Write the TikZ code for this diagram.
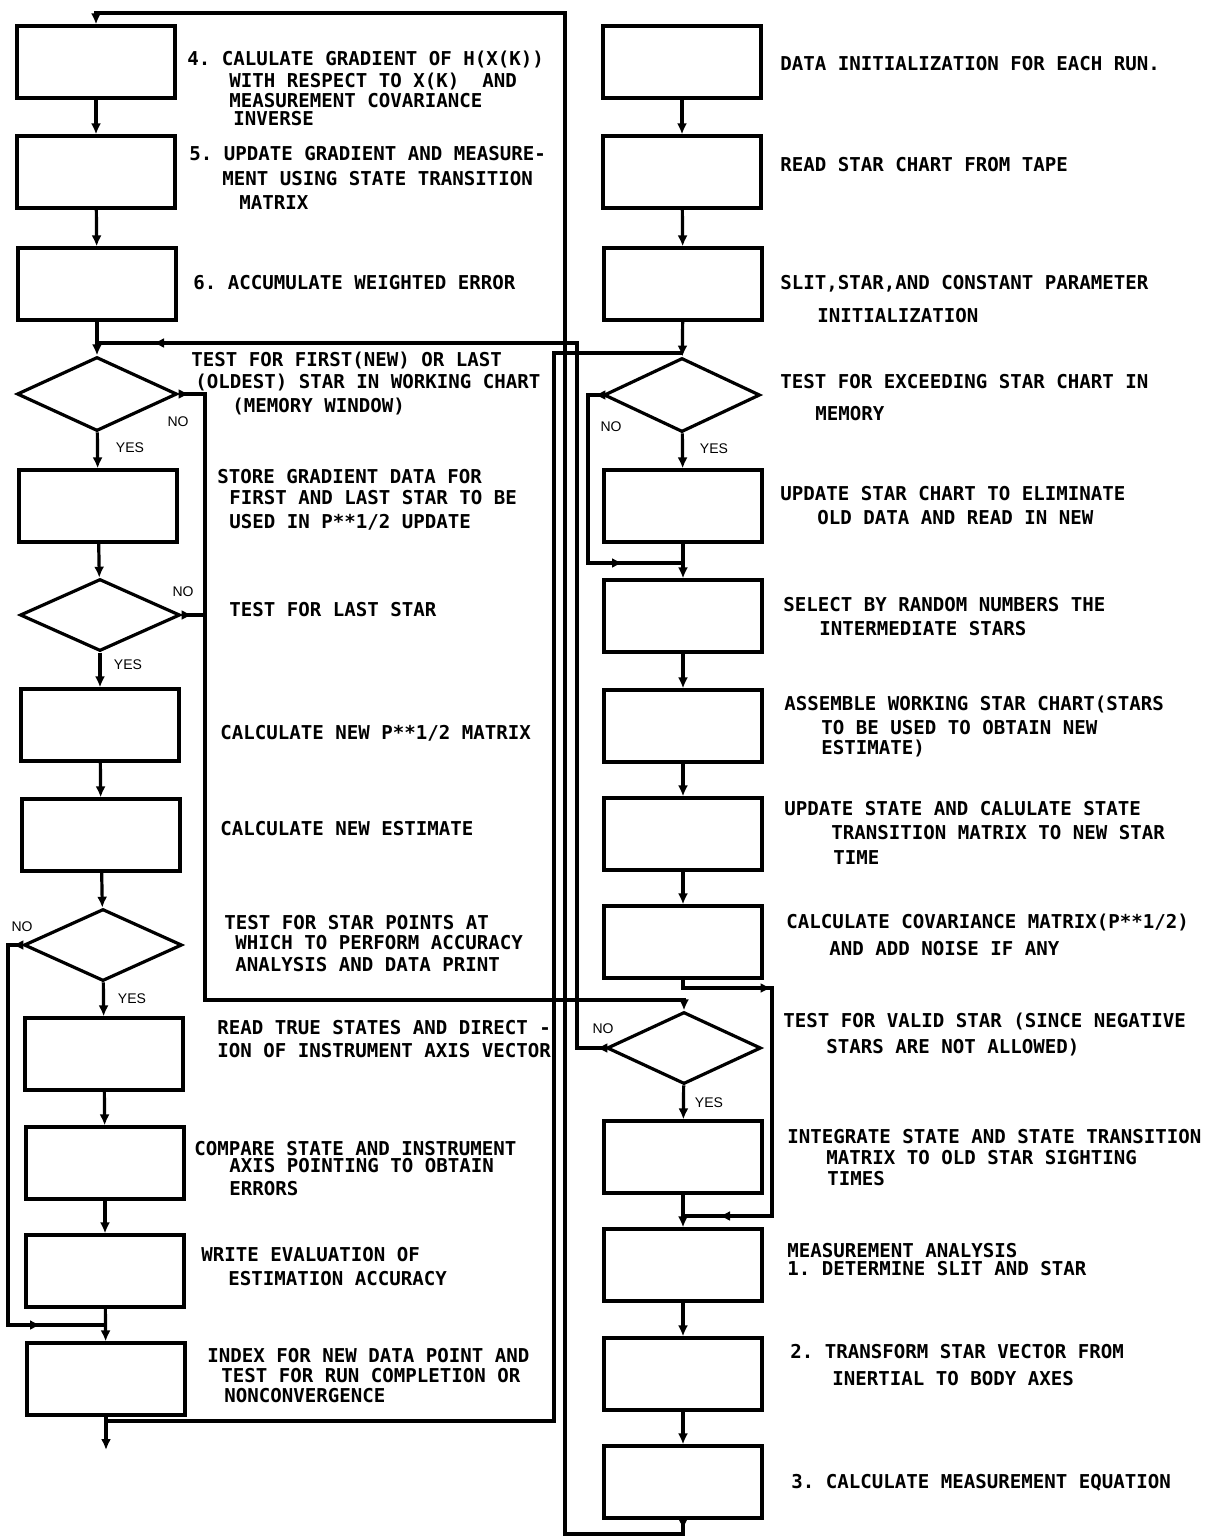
\documentclass[tikz,border=0pt]{standalone}
\usepackage{fontspec}
\setmonofont{DejaVu Sans Mono}
\newfontfamily\ynfont{Liberation Sans}
\usetikzlibrary{shapes.geometric,arrows.meta,decorations.markings}
\newcommand\lblfont{\fontsize{9.55pt}{11pt}\selectfont\ttfamily\bfseries}
\newcommand\ynsize{\ynfont\fontsize{7pt}{8pt}\selectfont}
\begin{document}
\begin{tikzpicture}[x=0.5pt,y=-0.5pt,
  box/.style={draw, line width=1.6pt, rectangle, minimum width=79pt, minimum height=36pt, inner sep=0pt},
  dia/.style={draw, line width=1.6pt, diamond, inner sep=0pt},
  con/.style={line width=1.6pt, line join=miter},
  arr/.style={con, -{Latex[length=5.5pt,width=5pt]}},
  marr/.style={postaction={decorate, decoration={markings, mark=at position #1 with {\arrow{Latex[length=5.5pt,width=5pt]}}}}},
  lbl/.style={anchor=base west, inner sep=0pt, font=\lblfont},
  yn/.style={inner sep=0pt, font=\ynsize}]
\fill[white] (0,0) rectangle (1210,1538);
\useasboundingbox (0,0) rectangle (1210,1538);

% ---------------- left column ----------------
\node[box] (L1) at (96,62) {};
\node[box] (L2) at (96,172) {};
\node[box] (L3) at (97,284) {};
\node[dia, minimum width=80pt, minimum height=37pt] (D1) at (97,394) {};
\node[box] (L4) at (98,506) {};
\node[dia, minimum width=80pt, minimum height=36pt] (D2) at (100,615) {};
\node[box] (L5) at (100,725) {};
\node[box] (L6) at (101,835) {};
\node[dia, minimum width=79pt, minimum height=36pt] (D3) at (103,945) {};
\node[box] (L7) at (104,1054) {};
\node[box] (L8) at (105,1163) {};
\node[box] (L9) at (105,1271) {};
\node[box] (L10) at (106,1379) {};

% ---------------- right column ----------------
\node[box] (R1) at (682,62) {};
\node[box] (R2) at (682,172) {};
\node[box] (R3) at (683,284) {};
\node[dia, minimum width=78pt, minimum height=37pt] (D4) at (682,395) {};
\node[box] (R4) at (683,506) {};
\node[box] (R5) at (683,616) {};
\node[box] (R6) at (683,726) {};
\node[box] (R7) at (683,834) {};
\node[box] (R8) at (683,942) {};
\node[dia, minimum width=77pt, minimum height=36pt] (D5) at (684,1048) {};
\node[box] (R9) at (683,1157) {};
\node[box] (R10) at (683,1265) {};
\node[box] (R11) at (683,1374) {};
\node[box] (R12) at (683,1482) {};

% ---------------- junctions and bends ----------------
\coordinate (jL) at (97,343);
\coordinate (jR) at (682,353);
\coordinate (jR2) at (683,563);
\coordinate (jL2) at (105,1325);
\coordinate (jR3) at (683,1216);
\coordinate (exitL) at (106,1450);
\coordinate (a1) at (106,1421);
\coordinate (a2) at (554,1421);
\coordinate (a3) at (554,353);
\coordinate (b0) at (683,1534);
\coordinate (b1) at (565,1534);
\coordinate (b2) at (565,13);
\coordinate (c1) at (577,1048);
\coordinate (c2) at (577,343);
\coordinate (d1) at (588,395);
\coordinate (d2) at (588,563);
\coordinate (e1) at (205,394);
\coordinate (e2) at (205,1000);
\coordinate (g1) at (8,945);
\coordinate (g2) at (8,1325);
\coordinate (h1) at (683,988);
\coordinate (h2) at (772,988);
\coordinate (h3) at (772,1216);

% ---------------- straight flow ----------------
\draw[arr] (L1) -- (L2);
\draw[arr] (L2) -- (L3);
\draw[arr] (L3) -- (D1);
\draw[arr] (D1) -- (L4);
\draw[arr] (L4) -- (D2);
\draw[arr] (D2) -- (L5);
\draw[arr] (L5) -- (L6);
\draw[arr] (L6) -- (D3);
\draw[arr] (D3) -- (L7);
\draw[arr] (L7) -- (L8);
\draw[arr] (L8) -- (L9);
\draw[arr] (L9) -- (L10);
\draw[arr] (L10.south) -- (exitL);

\draw[arr] (R1) -- (R2);
\draw[arr] (R2) -- (R3);
\draw[arr] (R3) -- (D4);
\draw[arr] (D4) -- (R4);
\draw[arr] (R4) -- (R5);
\draw[arr] (R5) -- (R6);
\draw[arr] (R6) -- (R7);
\draw[arr] (R7) -- (R8);
\draw[arr] (D5) -- (R9);
\draw[arr] (R9) -- (R10);
\draw[arr] (R10) -- (R11);
\draw[arr] (R11) -- (R12);

% ---------------- loops ----------------
% index loop back to star chart test
\draw[con] (a1) -- (a2) -- (a3) -- (jR);
% measurement equation back to gradient (top)
\draw[arr, marr=5pt] (R12.south) -- (b0) -- (b1) -- (b2) -- (L1.north |- b2) -- (L1.north);
% invalid star back to first/last test
\draw[con, marr=4.5pt, marr=-28pt] (D5.west) -- (c1) -- (c2) -- (jL);
% star chart in memory bypass
\draw[con, marr=4pt, marr=-30pt] (D4.west) -- (d1) -- (d2) -- (jR2);
% NO of first/last test to valid star test
\draw[arr, marr=5.5pt] (D1.east) -- (e1) -- (e2) -- (D5.north |- e2) -- (D5.north);
\draw[con, marr=5.5pt] (D2.east) -- (D2.east -| e1);
% star points NO bypass
\draw[con, marr=5pt, marr=-32pt] (D3.west) -- (g1) -- (g2) -- (jL2);
% covariance to measurement analysis
\draw[con, marr=48.5pt, marr=-18pt] (R8.south) -- (h1) -- (h2) -- (h3) -- (jR3);

% ---------------- YES / NO ----------------
\node[yn] (n1) at (178,422) {NO};
\node[yn] (y1) at (130,448) {YES};
\node[yn] (n2) at (183,592) {NO};
\node[yn] (y2) at (128,665) {YES};
\node[yn] (n3) at (22,927) {NO};
\node[yn] (y3) at (132,999) {YES};
\node[yn] (n4) at (611,427) {NO};
\node[yn] (y4) at (714,449) {YES};
\node[yn] (n5) at (603,1029) {NO};
\node[yn] (y5) at (709,1103) {YES};

% ---------------- left texts ----------------
\node[lbl] (t1a) at (187,65) {4. CALULATE GRADIENT OF H(X(K))};
\node[lbl] (t1b) at (229,87) {WITH RESPECT TO X(K)\ \ AND};
\node[lbl] (t1c) at (229,107) {MEASUREMENT COVARIANCE};
\node[lbl] (t1d) at (233,125) {INVERSE};
\node[lbl] (t2a) at (189,160) {5. UPDATE GRADIENT AND MEASURE-};
\node[lbl] (t2b) at (222,185) {MENT USING STATE TRANSITION};
\node[lbl] (t2c) at (239,209) {MATRIX};
\node[lbl] (t3) at (193,289) {6. ACCUMULATE WEIGHTED ERROR};
\node[lbl] (t4a) at (191,366) {TEST FOR FIRST(NEW) OR LAST};
\node[lbl] (t4b) at (195,388) {(OLDEST) STAR IN WORKING CHART};
\node[lbl] (t4c) at (232,412) {(MEMORY WINDOW)};
\node[lbl] (t5a) at (217,483) {STORE GRADIENT DATA FOR};
\node[lbl] (t5b) at (229,504) {FIRST AND LAST STAR TO BE};
\node[lbl] (t5c) at (229,528) {USED IN P**1/2 UPDATE};
\node[lbl] (t6) at (229,616) {TEST FOR LAST STAR};
\node[lbl] (t7) at (220,739) {CALCULATE NEW P**1/2 MATRIX};
\node[lbl] (t8) at (220,835) {CALCULATE NEW ESTIMATE};
\node[lbl] (t9a) at (224,929) {TEST FOR STAR POINTS AT};
\node[lbl] (t9b) at (235,949) {WHICH TO PERFORM ACCURACY};
\node[lbl] (t9c) at (235,971) {ANALYSIS AND DATA PRINT};
\node[lbl] (t10a) at (217,1034) {READ TRUE STATES AND DIRECT -};
\node[lbl] (t10b) at (217,1057) {ION OF INSTRUMENT AXIS VECTOR};
\node[lbl] (t11a) at (194,1155) {COMPARE STATE AND INSTRUMENT};
\node[lbl] (t11b) at (229,1172) {AXIS POINTING TO OBTAIN};
\node[lbl] (t11c) at (229,1195) {ERRORS};
\node[lbl] (t12a) at (201,1261) {WRITE EVALUATION OF};
\node[lbl] (t12b) at (228,1285) {ESTIMATION ACCURACY};
\node[lbl] (t13a) at (207,1362) {INDEX FOR NEW DATA POINT AND};
\node[lbl] (t13b) at (221,1382) {TEST FOR RUN COMPLETION OR};
\node[lbl] (t13c) at (224,1402) {NONCONVERGENCE};

% ---------------- right texts ----------------
\node[lbl] (r1t) at (780,70) {DATA INITIALIZATION FOR EACH RUN.};
\node[lbl] (r2t) at (780,171) {READ STAR CHART FROM TAPE};
\node[lbl] (r3a) at (780,289) {SLIT,STAR,AND CONSTANT PARAMETER};
\node[lbl] (r3b) at (817,322) {INITIALIZATION};
\node[lbl] (d4a) at (780,388) {TEST FOR EXCEEDING STAR CHART IN};
\node[lbl] (d4b) at (815,420) {MEMORY};
\node[lbl] (r4a) at (780,500) {UPDATE STAR CHART TO ELIMINATE};
\node[lbl] (r4b) at (817,524) {OLD DATA AND READ IN NEW};
\node[lbl] (r5a) at (783,611) {SELECT BY RANDOM NUMBERS THE};
\node[lbl] (r5b) at (819,635) {INTERMEDIATE STARS};
\node[lbl] (r6a) at (784,710) {ASSEMBLE WORKING STAR CHART(STARS};
\node[lbl] (r6b) at (821,734) {TO BE USED TO OBTAIN NEW};
\node[lbl] (r6c) at (821,754) {ESTIMATE)};
\node[lbl] (r7a) at (784,815) {UPDATE STATE AND CALULATE STATE};
\node[lbl] (r7b) at (831,839) {TRANSITION MATRIX TO NEW STAR};
\node[lbl] (r7c) at (833,864) {TIME};
\node[lbl] (r8a) at (786,928) {CALCULATE COVARIANCE MATRIX(P**1/2)};
\node[lbl] (r8b) at (829,955) {AND ADD NOISE IF ANY};
\node[lbl] (d5a) at (783,1027) {TEST FOR VALID STAR (SINCE NEGATIVE};
\node[lbl] (d5b) at (826,1053) {STARS ARE NOT ALLOWED)};
\node[lbl] (r9a) at (787,1143) {INTEGRATE STATE AND STATE TRANSITION};
\node[lbl] (r9b) at (826,1164) {MATRIX TO OLD STAR SIGHTING};
\node[lbl] (r9c) at (827,1185) {TIMES};
\node[lbl] (r10a) at (787,1257) {MEASUREMENT ANALYSIS};
\node[lbl] (r10b) at (787,1275) {1. DETERMINE SLIT AND STAR};
\node[lbl] (r11a) at (790,1358) {2. TRANSFORM STAR VECTOR FROM};
\node[lbl] (r11b) at (832,1385) {INERTIAL TO BODY AXES};
\node[lbl] (r12t) at (791,1488) {3. CALCULATE MEASUREMENT EQUATION};
\end{tikzpicture}
\end{document}
